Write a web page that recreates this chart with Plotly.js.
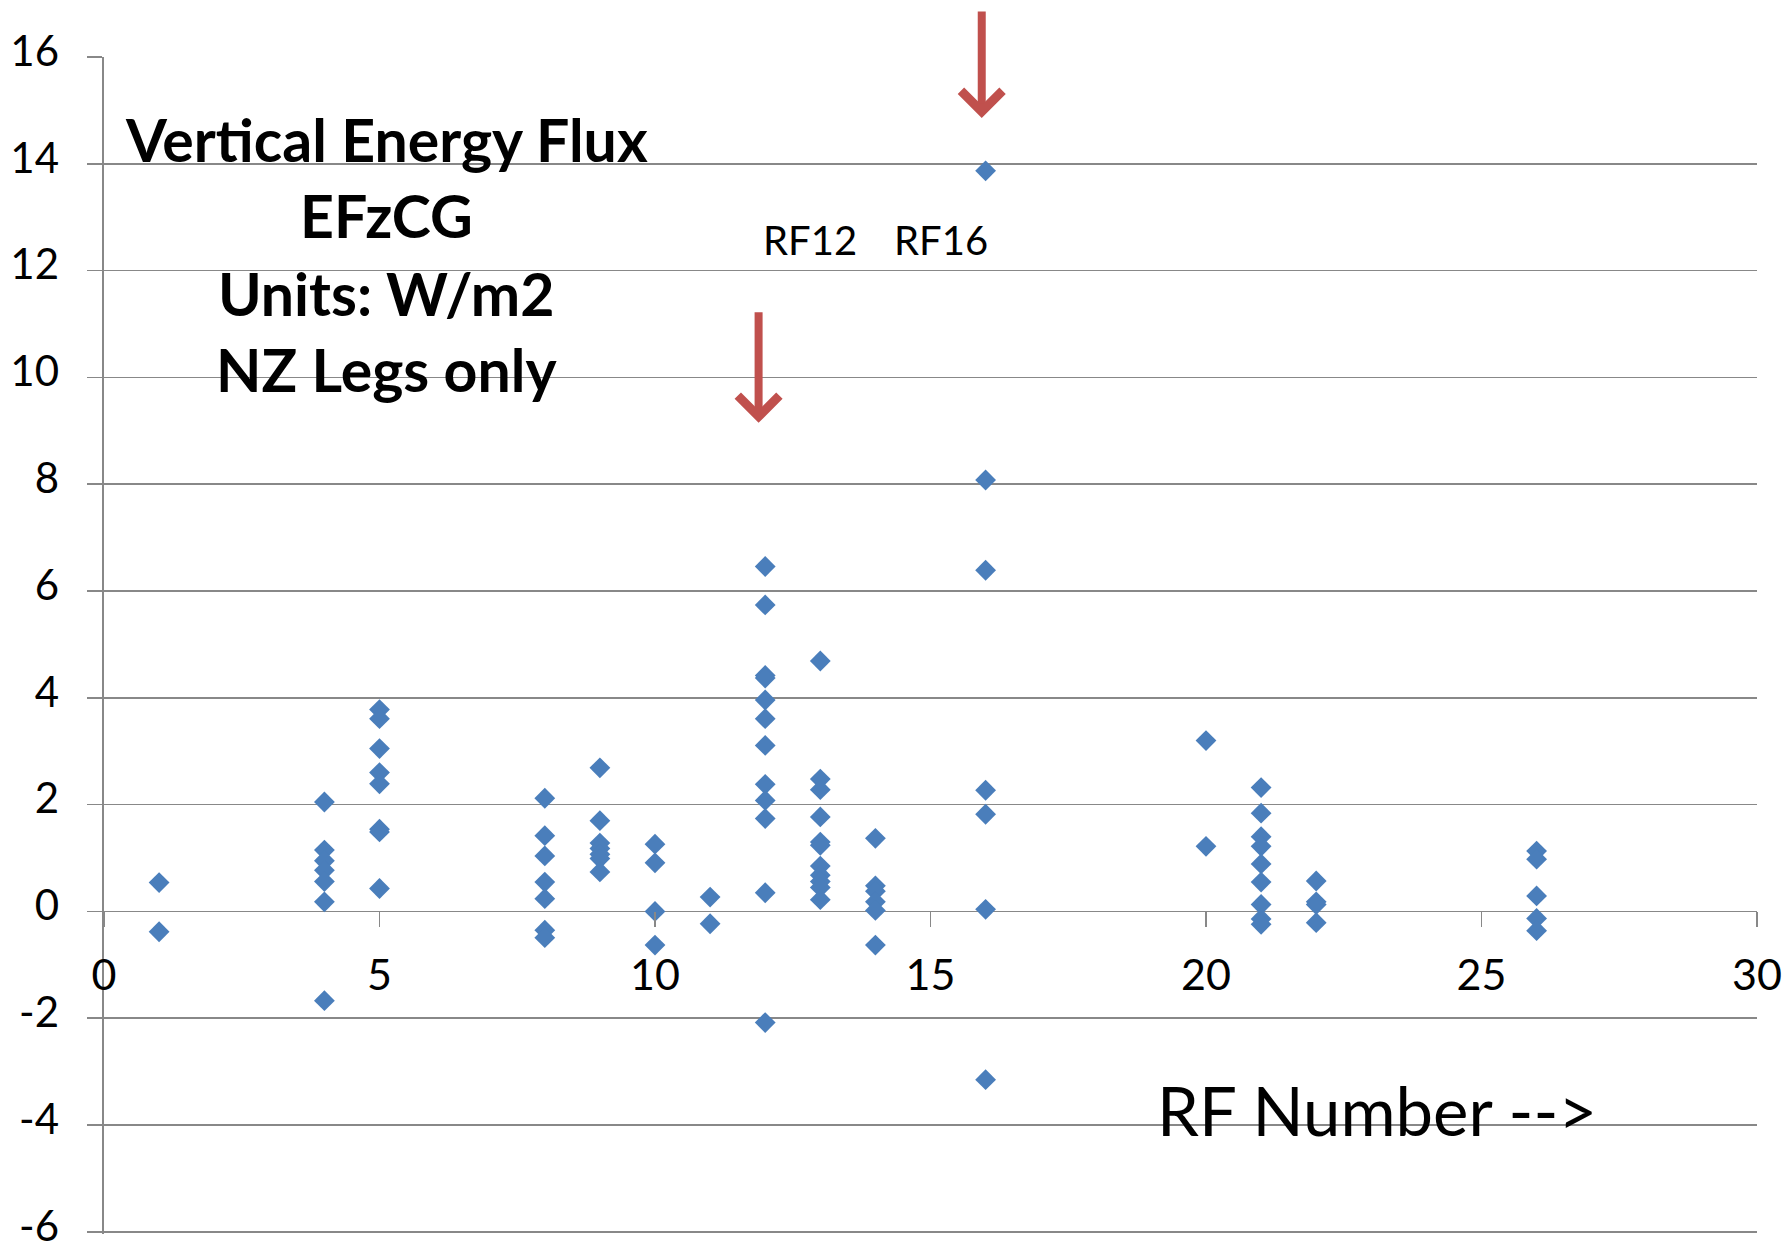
<!DOCTYPE html>
<html>
<head>
<meta charset="utf-8">
<script src="https://cdn.plot.ly/plotly-3.0.1.min.js"></script>
<style>
  html, body { margin: 0; padding: 0; background: #ffffff; }
  #chart { width: 1785px; height: 1253px; }
</style>
</head>
<body>
<div id="chart"></div>
<script>
// Vertical energy flux (EFzCG, W/m2) per research flight, NZ legs only
const rf01 = [0.54, -0.38];
const rf04 = [2.05, 1.15, 0.95, 0.77, 0.56, 0.18, -1.67];
const rf05 = [3.78, 3.61, 3.05, 2.60, 2.39, 1.54, 1.49, 0.43];
const rf08 = [2.12, 1.42, 1.04, 0.55, 0.24, -0.35, -0.49];
const rf09 = [2.69, 1.70, 1.28, 1.18, 1.07, 0.99, 0.74];
const rf10 = [1.26, 0.91, 0.00, -0.63];
const rf11 = [0.27, -0.23];
const rf12 = [6.46, 5.74, 4.42, 4.37, 3.96, 3.61, 3.11, 2.38, 2.08, 1.74, 0.35, -2.08];
const rf13 = [4.69, 2.48, 2.28, 1.77, 1.30, 1.24, 0.85, 0.68, 0.56, 0.45, 0.22];
const rf14 = [1.37, 0.48, 0.38, 0.18, 0.02, -0.63];
const rf16 = [13.87, 8.08, 6.39, 2.27, 1.82, 0.04, -3.15];
const rf20 = [3.20, 1.22];
const rf21 = [2.32, 1.84, 1.40, 1.22, 0.89, 0.55, 0.13, -0.14, -0.24];
const rf22 = [0.57, 0.18, 0.13, -0.21];
const rf26 = [1.13, 0.98, 0.29, -0.13, -0.36];

const flights = [
  [1, rf01], [4, rf04], [5, rf05], [8, rf08], [9, rf09], [10, rf10],
  [11, rf11], [12, rf12], [13, rf13], [14, rf14], [16, rf16],
  [20, rf20], [21, rf21], [22, rf22], [26, rf26]
];

const xTicks = [0, 5, 10, 15, 20, 25, 30];
const yTicks = [-6, -4, -2, 0, 2, 4, 6, 8, 10, 12, 14, 16];

const titleLines = ['Vertical Energy Flux', 'EFzCG', 'Units: W/m2', 'NZ Legs only'];

const xs = [], ys = [];
flights.forEach(([rf, vals]) => vals.forEach(v => { xs.push(rf); ys.push(v); }));

const gridCol = '#888888';
const font = 'Lato, "Open Sans", sans-serif';

const trace = {
  type: 'scatter',
  mode: 'markers',
  x: xs,
  y: ys,
  marker: { symbol: 'diamond', size: 16, color: '#4A7EBB', line: { width: 0 } },
  showlegend: false,
  cliponaxis: false,
  hoverinfo: 'x+y'
};

const titleY = [14.46, 13.03, 11.57, 10.15];
const annotations = titleLines.map((t, i) => ({
  text: '<b>' + t + '</b>',
  x: 5.13, y: titleY[i], xref: 'x', yref: 'y',
  xanchor: 'center', yanchor: 'middle',
  showarrow: false,
  font: { family: font, size: 59, color: '#000000', weight: 900 }
}));

annotations.push(
  { text: 'RF12', x: 12.81, y: 12.58, xref: 'x', yref: 'y', xanchor: 'center', yanchor: 'middle',
    showarrow: false, font: { family: font, size: 40, color: '#000000' } },
  { text: 'RF16', x: 15.19, y: 12.58, xref: 'x', yref: 'y', xanchor: 'center', yanchor: 'middle',
    showarrow: false, font: { family: font, size: 40, color: '#000000' } },
  { text: 'RF Number -->', x: 19.08, y: -3.71, xref: 'x', yref: 'y', xanchor: 'left', yanchor: 'middle',
    showarrow: false, font: { family: font, size: 67, color: '#000000' } },
  { text: '', x: 15.93, y: 14.86, xref: 'x', yref: 'y', showarrow: true,
    ax: 0, ay: -108, arrowhead: 4, arrowsize: 1.0, arrowwidth: 8, arrowcolor: '#C0504D' },
  { text: '', x: 11.88, y: 9.15, xref: 'x', yref: 'y', showarrow: true,
    ax: 0, ay: -112, arrowhead: 4, arrowsize: 1.0, arrowwidth: 8, arrowcolor: '#C0504D' }
);

const layout = {
  width: 1785,
  height: 1253,
  margin: { l: 104, r: 28, t: 57, b: 19, pad: 0 },
  paper_bgcolor: '#ffffff',
  plot_bgcolor: '#ffffff',
  font: { family: font, color: '#000000' },
  showlegend: false,
  xaxis: {
    range: [0, 30],
    tickmode: 'array',
    tickvals: xTicks,
    ticktext: xTicks.map(String),
    showgrid: false,
    zeroline: false,
    showline: false,
    ticks: 'outside',
    ticklen: 15,
    tickwidth: 1.6,
    tickcolor: gridCol,
    anchor: 'free',
    position: 6.04 / 22.041,
    ticklabelstandoff: 11,
    tickfont: { family: font, size: 43, color: '#000000' }
  },
  yaxis: {
    range: [-6.04, 16.001],
    tickmode: 'array',
    tickvals: yTicks,
    ticktext: yTicks.map(String),
    showgrid: true,
    gridcolor: gridCol,
    gridwidth: 1.6,
    zeroline: true,
    zerolinecolor: gridCol,
    zerolinewidth: 1.6,
    showline: true,
    linecolor: gridCol,
    linewidth: 1.6,
    ticks: 'outside',
    ticklen: 15,
    tickwidth: 1.6,
    tickcolor: gridCol,
    ticklabelstandoff: 20,
    ticklabelshift: -6,
    ticklabeloverflow: 'allow',
    tickfont: { family: font, size: 42, color: '#000000' }
  },
  annotations: annotations
};

Plotly.newPlot('chart', [trace], layout, { staticPlot: true, displayModeBar: false });
</script>
</body>
</html>
